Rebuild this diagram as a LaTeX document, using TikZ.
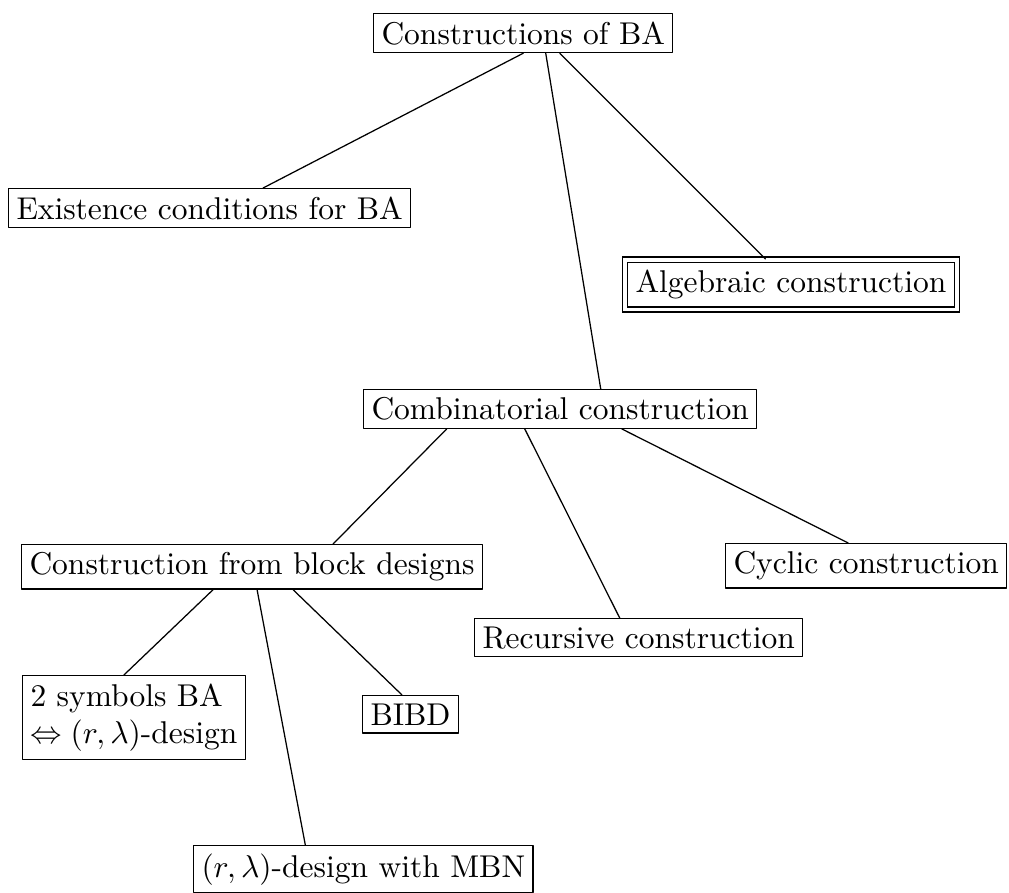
\documentclass[tikz,border=0pt]{standalone}
\usetikzlibrary{calc}
\begin{document}
\begin{tikzpicture}[x=0.3175pt, y=-0.3175pt, line join=round, line cap=round,
  box/.style={draw, inner sep=2.5pt, anchor=north west},
  dbox/.style={box, line join=miter, double, double distance=1.2pt, inner sep=3.3pt}]
\useasboundingbox (0,0) rectangle (1009,893);
\node[box] (cba) at (373,13) {Constructions of BA};
\node[box] (ex) at (8,188) {Existence conditions for BA};
\node[dbox] (alg) at (624.5,259) {Algebraic construction};
\node[box] (comb) at (363,389) {Combinatorial construction};
\node[box] (bd) at (21,544) {Construction from block designs};
\node[box] (cyc) at (725,543) {Cyclic construction};
\node[box] (rec) at (474,618) {Recursive construction};
\node[box, align=left] (two) at (22,675) {2 symbols BA\\ $\Leftrightarrow (r,\lambda)$-design};
\node[box] (bibd) at (362,695) {BIBD};
\node[box] (mbn) at (193,845) {$(r,\lambda)$-design with MBN};
\draw (cba.south)--($(ex.north)+(53.5,0)$);
\draw ($(cba.south)+(22.5,0)$)--($(comb.north)+(40.5,0)$);
\draw ($(cba.south)+(36.5,0)$)--($(alg.north)+(-25.5,0)$);
\draw ($(comb.south)+(-113.5,0)$)--($(bd.north)+(81,0)$);
\draw ($(comb.south)+(-35.5,0)$)--($(rec.north)+(-19,0)$);
\draw ($(comb.south)+(61.5,0)$)--($(cyc.north)+(-18,0)$);
\draw ($(bd.south)+(-39,0)$)--($(two.north)+(-10,0)$);
\draw ($(bd.south)+(5,0)$)--($(mbn.north)+(-58,0)$);
\draw ($(bd.south)+(41,0)$)--($(bibd.north)+(-8.5,0)$);
\end{tikzpicture}
\end{document}
